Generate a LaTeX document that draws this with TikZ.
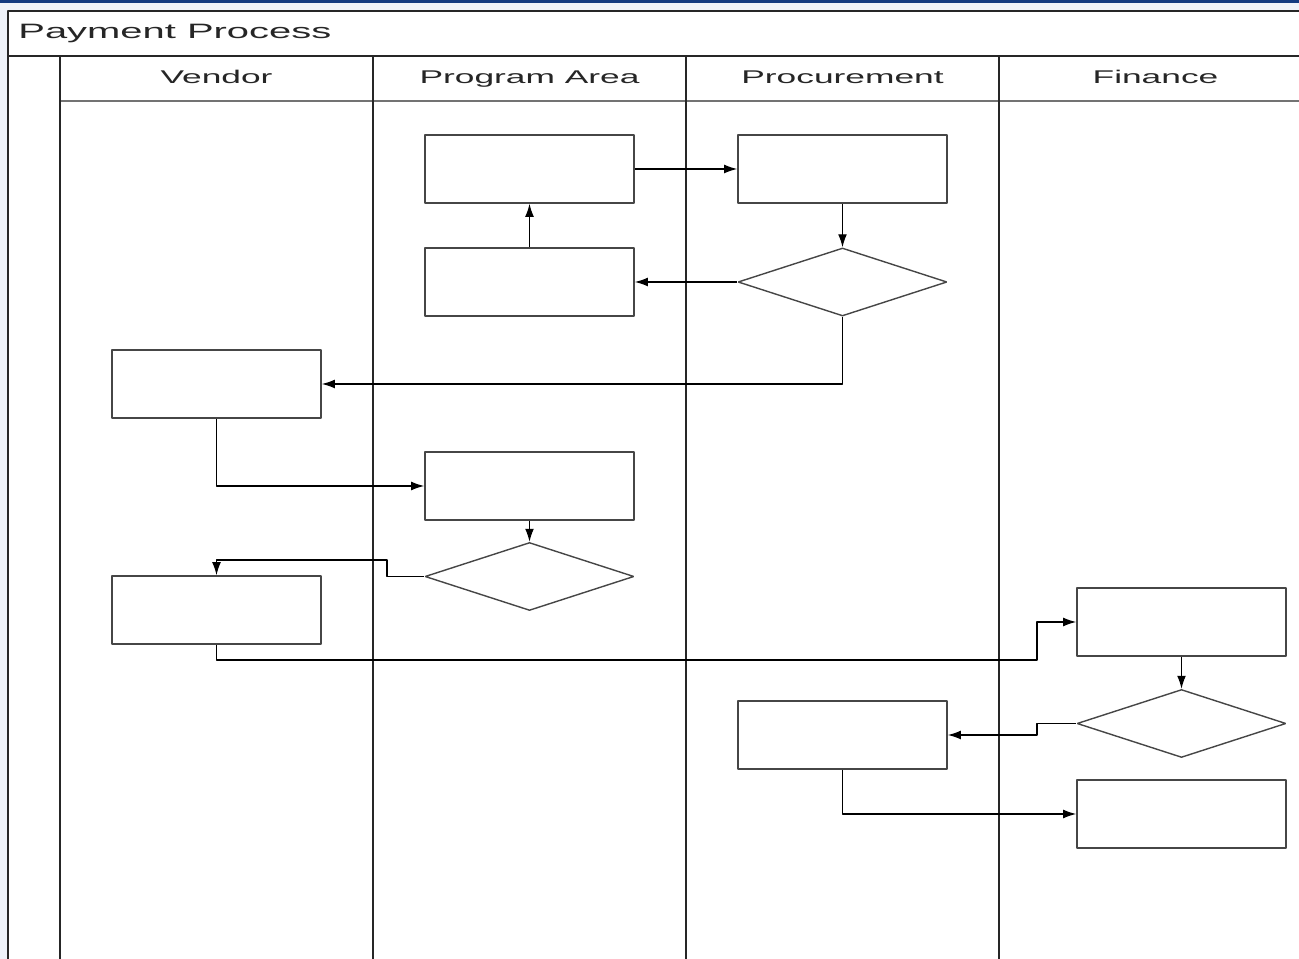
\documentclass[tikz,border=0pt]{standalone}
\usepackage{fontspec}
\usepackage{tikz}
\usetikzlibrary{arrows.meta,shapes}
\newfontfamily\lanefont[FakeStretch=1.92]{Liberation Sans}
\definecolor{barblue}{RGB}{18,58,128}
\definecolor{edgeblue}{RGB}{238,242,249}
\definecolor{boxgray}{RGB}{70,70,70}
\tikzset{
  task/.style={draw=boxgray,line width=0.8bp,rectangle,minimum width=104.5bp,minimum height=34bp,inner sep=0pt},
  choice/.style={draw=boxgray,line width=0.7bp,diamond,minimum width=104.5bp,minimum height=34bp,inner sep=0pt},
  lane/.style={line width=1.1bp,draw=black!85},
  flow/.style={line width=0.6bp,draw=black},
  lanetitle/.style={anchor=base,font=\lanefont\fontsize{9.2bp}{11bp}\selectfont,text=black!85}
}

\begin{document}
\begin{tikzpicture}[>={Latex[length=6.5bp,width=4.4bp]},line join=bevel,]
%%
\useasboundingbox (0bp,0bp) rectangle (649.5bp,479.5bp);
\clip (0bp,0bp) rectangle (649.5bp,479.5bp);
\fill[edgeblue] (0bp,0bp) rectangle (649.5bp,479.5bp);
\fill[barblue] (0bp,478bp) rectangle (649.5bp,479.5bp);
\fill[white] (4bp,0bp) rectangle (660bp,474bp);
% pool and lanes
\draw [lane] (660bp,474bp) -- (4bp,474bp) -- (4bp,-5bp);
\draw [lane] (4bp,451.5bp) -- (660bp,451.5bp);
\draw [line width=0.6bp,draw=black!55] (30bp,429bp) -- (660bp,429bp);
\draw [lane] (30bp,451.5bp) -- (30bp,-5bp);
\draw [lane] (186.5bp,451.5bp) -- (186.5bp,-5bp);
\draw [lane] (343bp,451.5bp) -- (343bp,-5bp);
\draw [lane] (499.5bp,451.5bp) -- (499.5bp,-5bp);
\node (pool) at (9bp,460.4bp) [anchor=base west,inner sep=0pt,font=\lanefont\fontsize{10.4bp}{12bp}\selectfont,text=black!85] {Payment Process};
\node (vendor) at (108.25bp,437.8bp) [lanetitle] {Vendor};
\node (program) at (264.75bp,437.8bp) [lanetitle] {Program Area};
\node (procure) at (421.25bp,437.8bp) [lanetitle] {Procurement};
\node (finance) at (577.75bp,437.8bp) [lanetitle] {Finance};
% steps
\node (P1) at (264.75bp,395bp) [task] {};
  \node (R1) at (421.25bp,395bp) [task] {};
  \node (P2) at (264.75bp,338.5bp) [task] {};
  \node (D1) at (421.25bp,338.5bp) [choice] {};
  \node (V1) at (108.25bp,287.5bp) [task] {};
  \node (P3) at (264.75bp,236.5bp) [task] {};
  \node (D2) at (264.75bp,191.25bp) [choice] {};
  \node (V2) at (108.25bp,174.5bp) [task] {};
  \node (F1) at (590.75bp,168.5bp) [task] {};
  \node (D3) at (590.75bp,117.75bp) [choice] {};
  \node (R2) at (421.25bp,112bp) [task] {};
  \node (F2) at (590.75bp,72.5bp) [task] {};
% flows
  \draw [flow,->] (P1) -- (R1);
  \draw [flow,->] (R1) -- (D1);
  \draw [flow,->] (D1) -- (P2);
  \draw [flow,->] (P2) -- (P1);
  \draw [flow,->] (D1.south) |- (V1.east);
  \draw [flow,->] (V1.south) |- (P3.west);
  \draw [flow,->] (P3) -- (D2);
  \draw [flow,->] (D2.west) -| (193.5bp,199.5bp) -| (V2.north);
  \draw [flow,->] (V2.south) |- (518.5bp,149.5bp) |- (F1.west);
  \draw [flow,->] (F1) -- (D3);
  \draw [flow,->] (D3.west) -| (518.5bp,112bp) -- (R2.east);
  \draw [flow,->] (R2.south) |- (F2.west);
%
\end{tikzpicture}
\end{document}
